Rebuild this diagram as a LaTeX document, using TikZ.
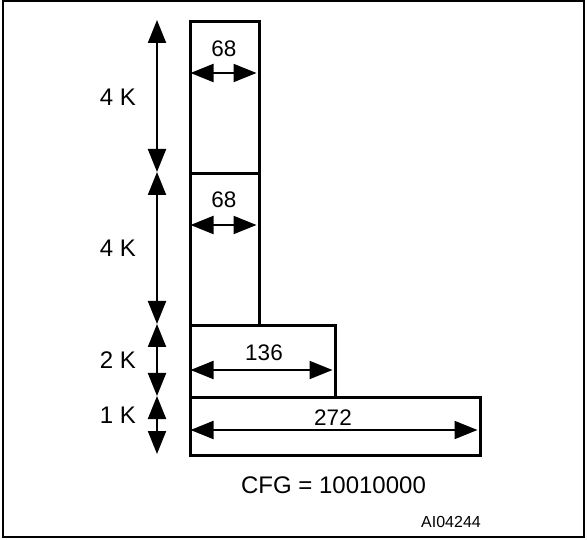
\documentclass[tikz,border=0pt]{standalone}
\usepackage{fontspec}
\setmainfont{Liberation Sans}
\usetikzlibrary{arrows.meta}
\begin{document}
\begin{tikzpicture}[x=1pt,y=-1pt,
  box/.style={draw=black,line width=3pt},
  dim/.style={line width=2pt,{Triangle[length=23pt,width=18pt]}-{Triangle[length=23pt,width=18pt]},shorten <=0pt,shorten >=0pt},
  lbl/.style={inner sep=0pt,font=\fontsize{22.5}{26}\selectfont},
  big/.style={inner sep=0pt,font=\fontsize{24}{28}\selectfont},
  side/.style={big,anchor=base east},
  num/.style={lbl,anchor=base}]
\useasboundingbox (0,0) rectangle (587,540);
\draw[line width=2pt] (2.5,1) rectangle (583.5,537);
% boxes
\node[box,minimum width=69pt,minimum height=152pt,inner sep=0pt,anchor=north west] (b1) at (189,20) {};
\node[box,minimum width=69pt,minimum height=152pt,inner sep=0pt,anchor=north west] (b2) at (189,172) {};
\node[box,minimum width=145pt,minimum height=72pt,inner sep=0pt,anchor=north west] (b3) at (189,324) {};
\node[box,minimum width=290pt,minimum height=58pt,inner sep=0pt,anchor=north west] (b4) at (189,396) {};
% vertical dimension coordinates
\coordinate (v0) at (157,20);
\coordinate (v1) at (157,172);
\coordinate (v2) at (157,324);
\coordinate (v3) at (157,396);
\coordinate (v4) at (157,454);
\draw[dim] (v0) -- (v1);
\draw[dim] (v1) -- (v2);
\draw[dim] (v2) -- (v3);
\draw[dim] (v3) -- (v4);
\node[side] (k1) at (136,106) {4 K};
\node[side] (k2) at (136,257) {4 K};
\node[side] (k3) at (136,369) {2 K};
\node[side] (k4) at (136,424) {1 K};
% horizontal dimensions
\coordinate (h1a) at (190.5,73); \coordinate (h1b) at (256.5,73);
\coordinate (h2a) at (190.5,225); \coordinate (h2b) at (256.5,225);
\coordinate (h3a) at (190.5,370); \coordinate (h3b) at (332.5,370);
\coordinate (h4a) at (190.5,430); \coordinate (h4b) at (477.5,430);
\draw[dim] (h1a) -- (h1b);
\draw[dim] (h2a) -- (h2b);
\draw[dim] (h3a) -- (h3b);
\draw[dim] (h4a) -- (h4b);
\node[num] (n1) at (224,57) {68};
\node[num] (n2) at (224,208) {68};
\node[num] (n3) at (264,360) {136};
\node[num] (n4) at (333,425) {272};
\node[big,anchor=base] (cfg) at (333.5,493) {CFG = 10010000};
\node[inner sep=0pt,anchor=base,font=\fontsize{16}{19}\selectfont] (id) at (451,527) {AI04244};
\end{tikzpicture}
\end{document}
